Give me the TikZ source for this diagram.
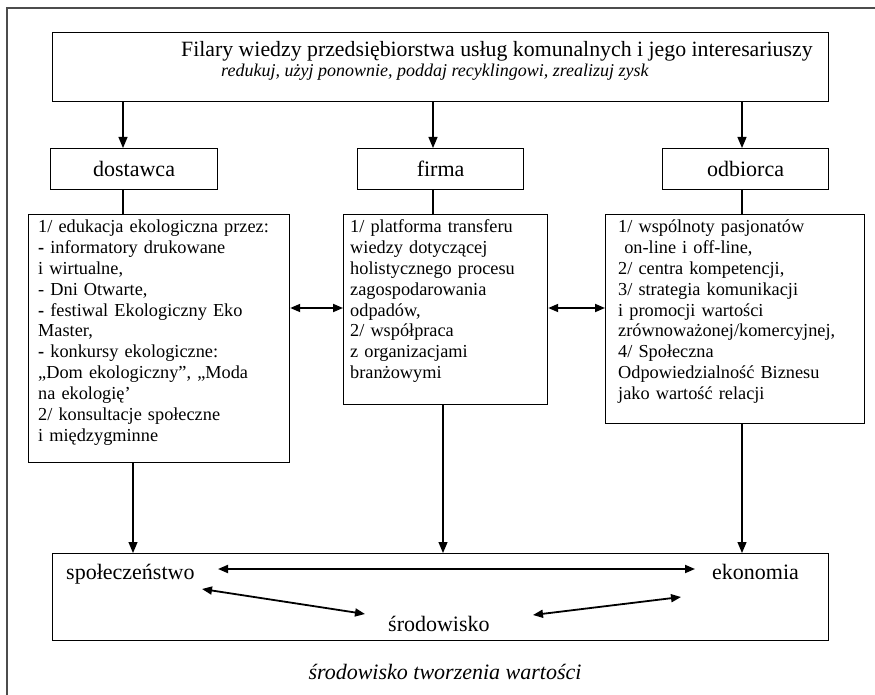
\documentclass[tikz,border=0pt]{standalone}
\usepackage{fontspec}
\setmainfont{Liberation Serif}
\usetikzlibrary{arrows.meta}
\begin{document}
\begin{tikzpicture}[x=1pt,y=-1pt,
 boxstyle/.style={draw, line width=1.2pt, inner sep=0pt, anchor=north west},
 lbl/.style={font=\fontsize{22}{24}\selectfont, inner sep=0pt},
 body/.style={font=\fontsize{18.3}{20.8}\selectfont, align=left, text width=#1, inner sep=0pt, anchor=base west},
 arr/.style={line width=1.2pt, -{Triangle[length=11pt,width=9pt]}},
 darr/.style={line width=1.8pt, {Triangle[length=10pt,width=8pt]}-{Triangle[length=10pt,width=8pt]}},
 plainline/.style={line width=1.2pt}]
\useasboundingbox (0,0) rectangle (875,695);
\draw[black!70, line width=1.8pt] (7,695) -- (7,8) -- (875,8);

% top box
\node[boxstyle, minimum width=776pt, minimum height=69pt] (top) at (52,32) {};
\node[font=\fontsize{21.8}{24}\selectfont, inner sep=0pt, anchor=base west] (title) at (181,57) {Filary wiedzy przedsiębiorstwa usług komunalnych i jego interesariuszy};
\node[font=\fontsize{18}{20}\selectfont\itshape, inner sep=0pt, anchor=base west] (sub) at (221,77) {redukuj, użyj ponownie, poddaj recyklingowi, zrealizuj zysk};

% x positions of connectors
\coordinate (xa) at (123,0);
\coordinate (xb) at (433,0);
\coordinate (xc) at (742,0);
\coordinate (xd) at (133,0);
\coordinate (xe) at (443,0);
\coordinate (yh) at (0,308);

% small boxes
\node[boxstyle, lbl, minimum width=167pt, minimum height=41pt] (dost) at (50,148) {dostawca};
\node[boxstyle, lbl, minimum width=166pt, minimum height=41pt] (firma) at (357,148) {firma};
\node[boxstyle, lbl, minimum width=166pt, minimum height=41pt] (odb) at (662,148) {odbiorca};

% big boxes
\node[boxstyle, minimum width=261pt, minimum height=248pt] (b1) at (28,214) {};
\node[boxstyle, minimum width=204pt, minimum height=190pt] (b2) at (343,214) {};
\node[boxstyle, minimum width=259pt, minimum height=209pt] (b3) at (605,214) {};

\node[body=245pt] (t1) at (38,233) {1/ edukacja ekologiczna przez:\\
\textbf{-} informatory drukowane\\
i wirtualne,\\
- Dni Otwarte,\\
\textbf{-} festiwal Ekologiczny Eko\\
Master,\\
\textbf{-} konkursy ekologiczne:\\
„Dom ekologiczny”, „Moda\\
na ekologię’\\
2/ konsultacje społeczne\\
i międzygminne};

\node[body=195pt] (t2) at (350,233) {1/ platforma transferu\\
wiedzy dotyczącej\\
holistycznego procesu\\
zagospodarowania\\
odpadów,\\
2/ współpraca\\
z organizacjami\\
branżowymi};

\node[body=245pt] (t3) at (618,233) {1/ wspólnoty pasjonatów\\
\ on-line i off-line,\\
2/ centra kompetencji,\\
3/ strategia komunikacji\\
i promocji wartości\\
zrównoważonej/komercyjnej,\\
4/ Społeczna\\
Odpowiedzialność Biznesu\\
jako wartość relacji};

% bottom box
\node[boxstyle, minimum width=776pt, minimum height=87pt] (bot) at (52,553) {};
\node[lbl, anchor=base west] (spol) at (66,579) {społeczeństwo};
\node[lbl, anchor=base west] (ekon) at (712,579) {ekonomia};
\node[lbl, anchor=base west] (srod) at (388,631) {środowisko};
\node[font=\fontsize{22}{24}\selectfont\itshape, inner sep=0pt, anchor=base] (cap) at (445,679) {środowisko tworzenia wartości};

\coordinate (h1) at (218,569);
\coordinate (h2) at (695,569);
\coordinate (d1a) at (202,589);
\coordinate (d1b) at (365,614);
\coordinate (d2a) at (533,615);
\coordinate (d2b) at (681,597);

% connectors
\draw[arr] (top.south -| xa) -- (dost.north -| xa);
\draw[arr] (top.south -| xb) -- (firma.north -| xb);
\draw[arr] (top.south -| xc) -- (odb.north -| xc);
\draw[plainline] (dost.south -| xa) -- (b1.north -| xa);
\draw[plainline] (firma.south -| xb) -- (b2.north -| xb);
\draw[plainline] (odb.south -| xc) -- (b3.north -| xc);
\draw[darr] (b1.east |- yh) -- (b2.west |- yh);
\draw[darr] (b2.east |- yh) -- (b3.west |- yh);
\draw[arr] (b1.south -| xd) -- (bot.north -| xd);
\draw[arr] (b2.south -| xe) -- (bot.north -| xe);
\draw[arr] (b3.south -| xc) -- (bot.north -| xc);
\draw[darr] (h1) -- (h2);
\draw[darr] (d1a) -- (d1b);
\draw[darr] (d2a) -- (d2b);
\end{tikzpicture}
\end{document}
